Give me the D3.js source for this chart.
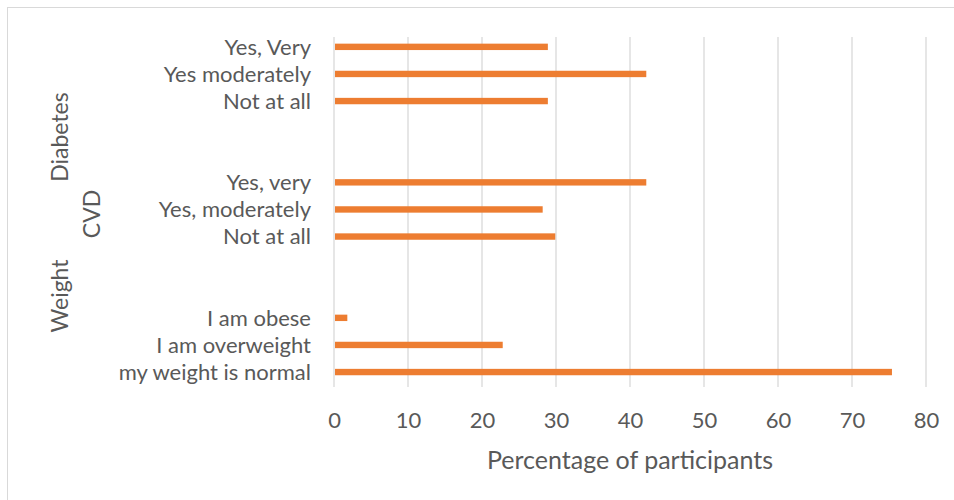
<!DOCTYPE html>
<html>
<head>
<meta charset="utf-8">
<script src="https://d3js.org/d3.v7.min.js"></script>
<style>
body { margin: 0; background: #fff; }
text { font-family: Lato, "Open Sans", sans-serif; fill: #595959; }
</style>
</head>
<body>
<svg width="954" height="500"></svg>
<script>

// categories from top to bottom, "" marks an empty row between groups
var categories = ["Yes, Very", "Yes moderately", "Not at all", "", "",
                  "Yes, very", "Yes, moderately", "Not at all", "", "",
                  "I am obese", "I am overweight", "my weight is normal"];
var values = [28.9, 42.2, 28.9, null, null,
              42.2, 28.2, 29.9, null, null,
              1.8, 22.8, 75.4];
var groups = ["Diabetes", "CVD", "Weight"];
var xTicks = [0, 10, 20, 30, 40, 50, 60, 70, 80];

var rows = categories.map(function(c, i) { return {i: i, cat: c, value: values[i]}; });

var svg = d3.select("svg");

svg.append("rect")
    .attr("x", 7.5).attr("y", 7.5)
    .attr("width", 960).attr("height", 510)
    .attr("fill", "none")
    .attr("stroke", "#d9d9d9");

var x = d3.scaleLinear().domain([0, 80]).range([334, 926]);
var y = d3.scaleBand().domain(d3.range(categories.length)).range([33.3, 385.6]);

// vertical gridlines
svg.append("g")
  .selectAll("line")
  .data(xTicks)
  .join("line")
    .attr("x1", function(d) { return x(d); })
    .attr("x2", function(d) { return x(d); })
    .attr("y1", 37)
    .attr("y2", 387)
    .attr("stroke", "#d9d9d9")
    .attr("stroke-width", 1.3);

// bars
svg.append("g")
  .selectAll("rect")
  .data(rows.filter(function(d) { return d.value != null; }))
  .join("rect")
    .attr("x", x(0) + 1)
    .attr("y", function(d) { return y(d.i) + y.bandwidth() / 2 - 3.2; })
    .attr("width", function(d) { return x(d.value) - x(0) - 1; })
    .attr("height", 6.4)
    .attr("fill", "#ed7d31");

// category labels
svg.append("g")
  .selectAll("text")
  .data(rows.filter(function(d) { return d.cat !== ""; }))
  .join("text")
    .attr("x", 311)
    .attr("y", function(d) { return y(d.i) + y.bandwidth() / 2; })
    .attr("dy", "0.35em")
    .attr("text-anchor", "end")
    .style("font-size", "22px")
    .text(function(d) { return d.cat; });

// group labels
var groupPos = [[60, 137], [92, 214], [60, 296]];
svg.append("g")
  .selectAll("text")
  .data(groups)
  .join("text")
    .attr("transform", function(d, i) {
      return "translate(" + groupPos[i][0] + "," + groupPos[i][1] + ") rotate(-90)";
    })
    .attr("dy", "0.35em")
    .attr("text-anchor", "middle")
    .style("font-size", "23px")
    .text(function(d) { return d; });

// x axis
var xAxis = svg.append("g")
    .attr("transform", "translate(0,400)")
    .call(d3.axisBottom(x).tickValues(xTicks).tickSize(0).tickPadding(12));
xAxis.select(".domain").remove();
xAxis.selectAll("text")
    .style("font-size", "22px")
    .attr("fill", "#595959");

svg.append("text")
    .attr("x", 630)
    .attr("y", 469)
    .attr("text-anchor", "middle")
    .style("font-size", "25px")
    .text("Percentage of participants");

</script>
</body>
</html>
